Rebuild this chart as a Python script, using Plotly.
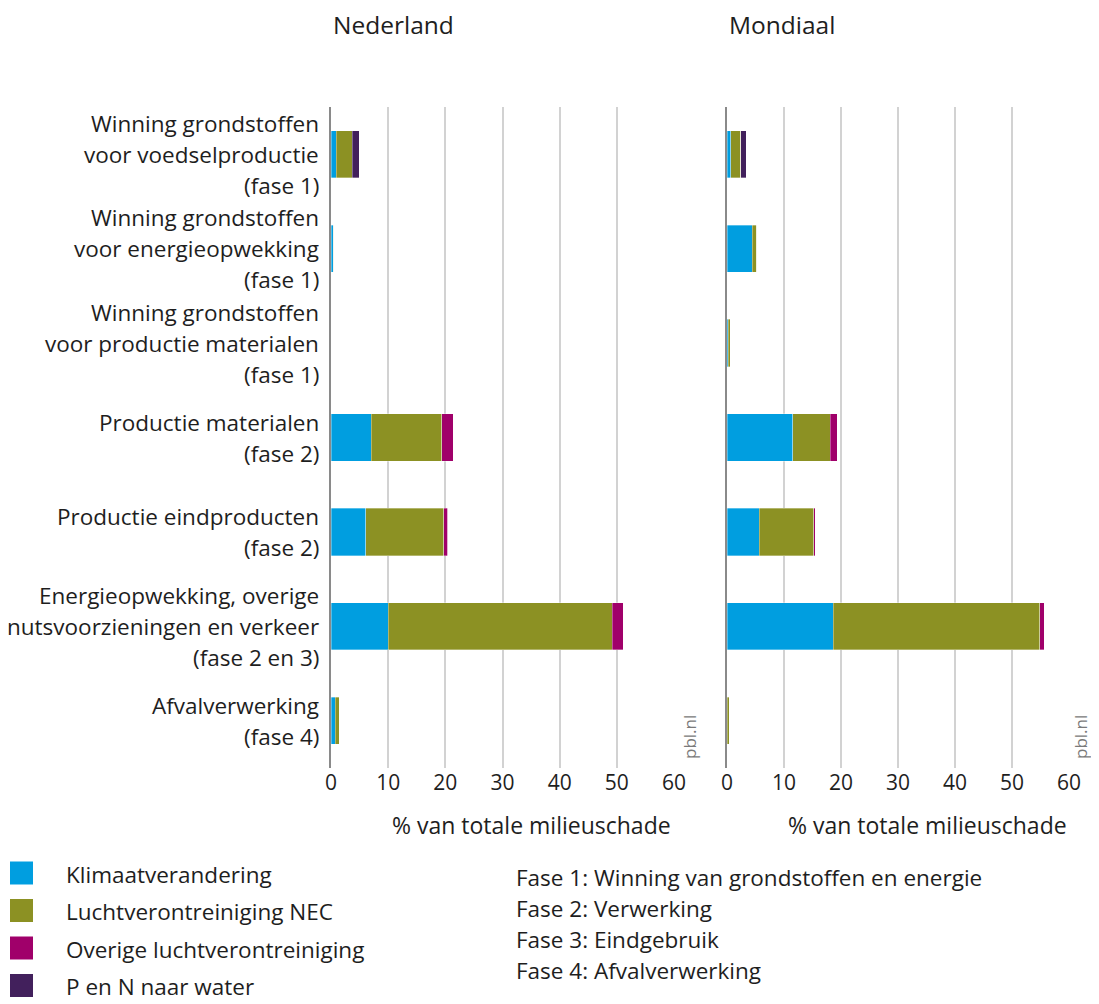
import plotly.graph_objects as go

# ---------------- data ----------------
categories = [
    "Winning grondstoffen\nvoor voedselproductie\n(fase 1)",
    "Winning grondstoffen\nvoor energieopwekking\n(fase 1)",
    "Winning grondstoffen\nvoor productie materialen\n(fase 1)",
    "Productie materialen\n(fase 2)",
    "Productie eindproducten\n(fase 2)",
    "Energieopwekking, overige\nnutsvoorzieningen en verkeer\n(fase 2 en 3)",
    "Afvalverwerking\n(fase 4)",
]
series_names = ["Klimaatverandering", "Luchtverontreiniging NEC",
                "Overige luchtverontreiniging", "P en N naar water"]
series_colors = ["#009EE0", "#8C9123", "#A0006A", "#42205C"]

nl_klimaat = [0.9, 0.4, 0.0, 7.0, 6.1, 10.0, 0.7]
nl_nec     = [2.8, 0.1, 0.0, 12.4, 13.6, 39.2, 0.7]
nl_overig  = [0.0, 0.0, 0.0, 2.0, 0.75, 1.9, 0.0]
nl_pn      = [1.2, 0.0, 0.0, 0.0, 0.0, 0.0, 0.0]

mo_klimaat = [0.7, 4.4, 0.25, 11.5, 5.7, 18.6, 0.05]
mo_nec     = [1.75, 0.8, 0.3, 6.6, 9.5, 36.3, 0.3]
mo_overig  = [0.0, 0.0, 0.0, 1.2, 0.3, 0.8, 0.0]
mo_pn      = [0.95, 0.0, 0.0, 0.0, 0.0, 0.0, 0.0]

panel_titles = ["Nederland", "Mondiaal"]
x_title = "% van totale milieuschade"
x_ticks = [0, 10, 20, 30, 40, 50, 60]
fase_notes = ["Fase 1: Winning van grondstoffen en energie",
              "Fase 2: Verwerking",
              "Fase 3: Eindgebruik",
              "Fase 4: Afvalverwerking"]
source = "pbl.nl"

# ---------------- figure ----------------
OFF = 8                      # page body margin
W, H = 1099 - 2 * OFF, 1004 - OFF
FONT = "Open Sans"
TXT = "#1e1e1e"

def px(x):
    return (x - OFF) / W

def py(y):
    return 1 - (y - OFF) / H

fig = go.Figure()
idx = list(range(len(categories)))

nl = [nl_klimaat, nl_nec, nl_overig, nl_pn]
mo = [mo_klimaat, mo_nec, mo_overig, mo_pn]
for vals, xa, ya in [(nl, "x", "y"), (mo, "x2", "y2")]:
    for name, col, v in zip(series_names, series_colors, vals):
        fig.add_trace(go.Bar(
            y=idx, x=v, orientation="h", name=name,
            marker=dict(color=col, line=dict(width=0.6, color="rgba(255,255,255,0.55)")),
            width=0.5, xaxis=xa, yaxis=ya, showlegend=False,
            hoverinfo="x+name",
        ))

ydom = [py(768), py(107)]
axis_common = dict(range=[0, 60], tickvals=x_ticks, showgrid=True,
                   gridcolor="#d2d2d2", gridwidth=1.5, zeroline=False,
                   showline=False, ticks="", tickfont=dict(family=FONT, size=21, color=TXT),
                   automargin=False, fixedrange=True)
yaxis_common = dict(range=[6.5, -0.5], domain=ydom, showgrid=False, zeroline=False,
                    showline=True, linecolor="#8a8a8a", linewidth=2,
                    showticklabels=False, ticks="", automargin=False, fixedrange=True)

fig.update_layout(
    width=W, height=H,
    margin=dict(l=0, r=0, t=0, b=0),
    paper_bgcolor="white", plot_bgcolor="white",
    barmode="stack", bargap=0.5,
    showlegend=False,
    font=dict(family=FONT, color=TXT),
    xaxis=dict(domain=[px(331), px(674)], anchor="y", **axis_common),
    xaxis2=dict(domain=[px(727), px(1069)], anchor="y2", **axis_common),
    yaxis=dict(anchor="x", **yaxis_common),
    yaxis2=dict(anchor="x2", matches="y", **yaxis_common),
)

ann = []
shapes = []

# category labels (multi-line, right aligned)
LS = 31
for i, lab in enumerate(categories):
    lines = lab.split("\n")
    n = len(lines)
    for j, line in enumerate(lines):
        ann.append(dict(text=line, xref="paper", x=px(321), xanchor="right",
                        yref="y", y=i, yanchor="middle",
                        yshift=((n - 1) / 2 - j) * LS, showarrow=False,
                        font=dict(family=FONT, size=22.5, color=TXT)))

# panel titles
for t, x0 in zip(panel_titles, [331, 727]):
    ann.append(dict(text=t, xref="paper", yref="paper", x=px(x0), y=py(25),
                    xanchor="left", yanchor="middle", showarrow=False,
                    font=dict(family=FONT, size=24.5, color=TXT)))

# x axis titles
for x1 in [673, 1069]:
    ann.append(dict(text=x_title, xref="paper", yref="paper", x=px(x1), y=py(825),
                    xanchor="right", yanchor="middle", showarrow=False,
                    font=dict(family=FONT, size=23, color=TXT)))

# source
for x0 in [689, 1080]:
    ann.append(dict(text=source, xref="paper", yref="paper", x=px(x0), y=py(737),
                    xanchor="center", yanchor="middle", textangle=-90, showarrow=False,
                    font=dict(family=FONT, size=17, color="#7a7a7a")))

# legend
for k, (name, col) in enumerate(zip(series_names, series_colors)):
    yc = 873 + k * 37.5
    shapes.append(dict(type="rect", xref="paper", yref="paper",
                       x0=px(10), x1=px(33), y0=py(yc - 11.5), y1=py(yc + 11.5),
                       fillcolor=col, line=dict(width=0)))
    ann.append(dict(text=name, xref="paper", yref="paper", x=px(64), y=py(yc + 1),
                    xanchor="left", yanchor="middle", showarrow=False,
                    font=dict(family=FONT, size=22.5, color=TXT)))

for k, note in enumerate(fase_notes):
    yc = 877 + k * 31
    ann.append(dict(text=note, xref="paper", yref="paper", x=px(514), y=py(yc),
                    xanchor="left", yanchor="middle", showarrow=False,
                    font=dict(family=FONT, size=22.5, color=TXT)))

fig.update_layout(annotations=ann, shapes=shapes)

fig.write_html("out.html")
